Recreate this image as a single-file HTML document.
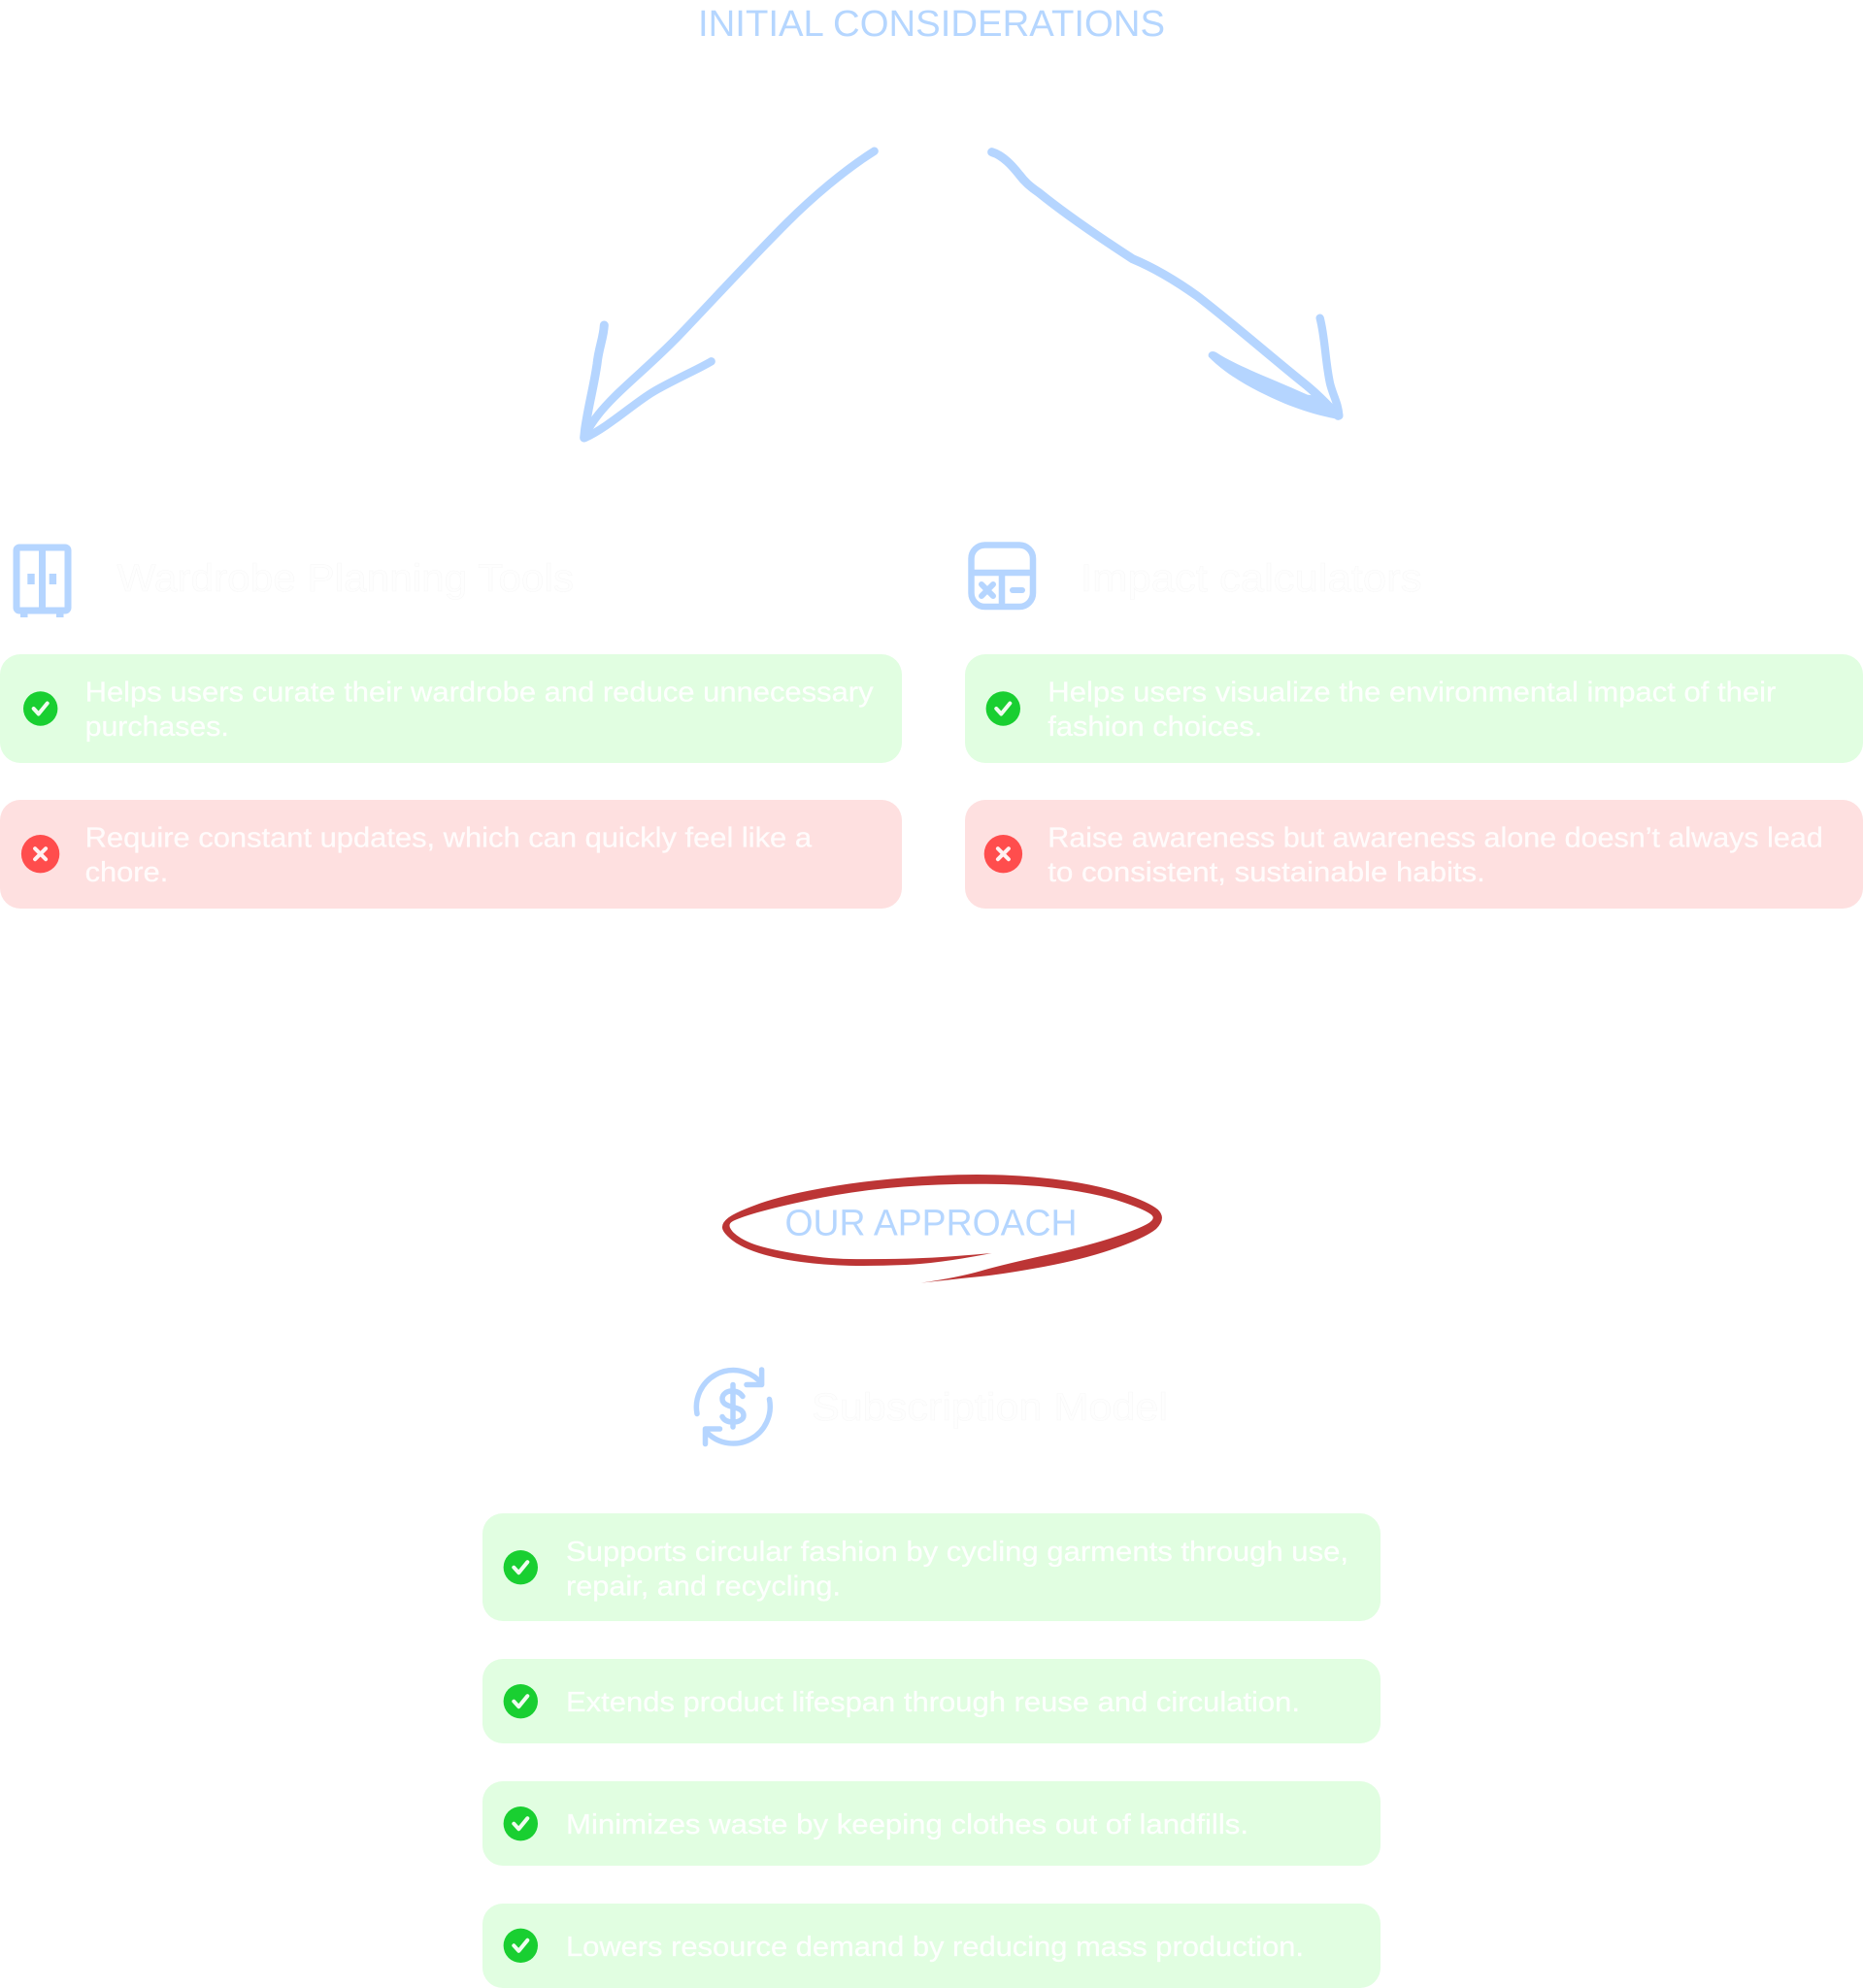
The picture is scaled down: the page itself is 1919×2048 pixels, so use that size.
<!DOCTYPE html>
<html><head><meta charset="utf-8"><title>Our Approach</title>
<style>
html,body{margin:0;padding:0;background:#fff;width:1919px;height:2048px;overflow:hidden}
svg{display:block}
text{font-family:"Liberation Sans",sans-serif}
.t{font-size:29px;fill:#fdfffd;stroke:#fdfffd;stroke-width:.3px}
.r{fill:#fffbfb;stroke:#fffbfb}
.h{font-size:40px;fill:#fefefe;stroke:#f8f8f8;stroke-width:.6px}
.b{font-size:38px;fill:#b5d6ff}
.ic{fill:none;stroke:#b5d5ff;stroke-linecap:round;stroke-linejoin:round}
.ck{fill:none;stroke:#f0fdf0;stroke-width:4;stroke-linecap:round;stroke-linejoin:round}
.xx{fill:none;stroke:#fff0f0;stroke-width:4;stroke-linecap:round}
</style></head><body>
<svg xmlns="http://www.w3.org/2000/svg" width="1919" height="2048" viewBox="0 0 1919 2048">
<defs>
<g id="ok"><circle r="17.7" fill="#19cf31"/><path class="ck" d="M-7 0L-2 5.5L7 -5.5"/></g>
<g id="no"><circle r="19.7" fill="#ff4d4d"/><path class="xx" d="M-5.5 -5.5L5.5 5.5M5.5 -5.5L-5.5 5.5"/></g>
</defs>

<text class="b" x="719" y="37" textLength="481" lengthAdjust="spacingAndGlyphs">INITIAL CONSIDERATIONS</text>

<!-- arrows -->
<g transform="translate(590 145) scale(.33333)" class="ic">
<path stroke-width="25" d="M932 32C840 90 740 175 660 255C560 355 440 485 340 590C260 675 190 730 130 790C90 830 65 860 40 905"/>
<path stroke-width="27" d="M97 570C95 610 80 640 75 690C65 760 50 810 38 890L35 918"/>
<path stroke-width="25" d="M428 682C390 705 320 735 250 775C190 810 110 885 38 918"/>
</g>
<g transform="translate(1010 145) scale(.33333)" class="ic">
<path stroke-width="27" d="M35 35C70 45 100 80 120 105C135 125 150 140 180 160C260 225 370 300 470 365C530 390 600 430 670 480C780 565 900 670 1000 750C1050 790 1080 825 1105 850"/>
<path stroke-width="25" d="M1049 548C1065 610 1065 680 1080 750C1090 790 1105 810 1108 850"/>
<path stroke="none" fill="#b5d5ff" d="M705 668C700 655 715 645 730 655C800 700 900 735 1010 785L1050 790L1120 845C1120 858 1110 862 1100 860C1000 840 930 810 860 775C800 745 740 705 705 668Z"/>
</g>

<!-- left column -->
<g fill="none" stroke="#b5d5ff" stroke-width="7">
<rect x="17" y="564" width="53" height="65" rx="3"/>
<path d="M43.5 564V629"/>
</g>
<g fill="#b5d5ff">
<rect x="28.3" y="591" width="7.4" height="11"/><rect x="50.7" y="591" width="7.4" height="11"/>
<rect x="21" y="630" width="7.5" height="6"/><rect x="58" y="630" width="7.5" height="6"/>
</g>
<text class="h" x="120.5" y="609" textLength="470.5" lengthAdjust="spacingAndGlyphs">Wardrobe Planning Tools</text>

<rect x="0" y="674" width="929" height="112" rx="21" fill="#e1fee1"/>
<use href="#ok" x="41.7" y="730"/>
<text class="t" x="87.6" y="722.6" textLength="812" lengthAdjust="spacingAndGlyphs">Helps users curate their wardrobe and reduce unnecessary</text>
<text class="t" x="87.6" y="758" textLength="148.2" lengthAdjust="spacingAndGlyphs">purchases.</text>

<rect x="0" y="824" width="929" height="112" rx="21" fill="#fee0e0"/>
<use href="#no" x="41.6" y="879.7"/>
<text class="t r" x="87.6" y="872.6" textLength="748.4" lengthAdjust="spacingAndGlyphs">Require constant updates, which can quickly feel like a</text>
<text class="t r" x="87.6" y="908" textLength="85.7" lengthAdjust="spacingAndGlyphs">chore.</text>

<!-- right column -->
<g fill="none" stroke="#b5d5ff" stroke-width="6.5">
<rect x="1000.5" y="561.5" width="63.5" height="63.5" rx="14"/>
<path d="M1000.5 590H1064M1032 590V625"/>
</g>
<path d="M1011 602L1023 614M1023 602L1011 614" fill="none" stroke="#b5d5ff" stroke-width="6" stroke-linecap="round"/>
<path d="M1043 608H1053" fill="none" stroke="#b5d5ff" stroke-width="6" stroke-linecap="round"/>
<text class="h" x="1113" y="609" textLength="351.5" lengthAdjust="spacingAndGlyphs">Impact calculators</text>

<rect x="994" y="674" width="925" height="112" rx="21" fill="#e1fee1"/>
<use href="#ok" x="1033.3" y="730"/>
<text class="t" x="1079.3" y="722.6" textLength="750" lengthAdjust="spacingAndGlyphs">Helps users visualize the environmental impact of their</text>
<text class="t" x="1079.3" y="758" textLength="221" lengthAdjust="spacingAndGlyphs">fashion choices.</text>

<rect x="994" y="824" width="925" height="112" rx="21" fill="#fee0e0"/>
<use href="#no" x="1033.4" y="879.7"/>
<text class="t r" x="1079.3" y="872.6" textLength="798.5" lengthAdjust="spacingAndGlyphs">Raise awareness but awareness alone doesn’t always lead</text>
<text class="t r" x="1079.3" y="908" textLength="450.5" lengthAdjust="spacingAndGlyphs">to consistent, sustainable habits.</text>

<!-- our approach -->
<g transform="translate(700 1190) scale(.33333)">
<path fill="#bc3535" d="M965 303Q800 335 700 339Q600 343 525 341.5Q450 340 375 330Q300 320 245 302.5Q190 285 162 262.5Q134 240 132 225Q130 210 150 194Q170 178 235 154Q300 130 400 110Q500 90 600 79Q700 68 800 63Q900 58 1000 61.5Q1100 65 1200 80Q1300 95 1375 120Q1450 145 1478 168Q1506 195 1473 228Q1440 255 1345 288.5Q1250 322 1125 345Q1000 368 930 375Q860 382 745 395Q860 378 930 358Q1000 338 1125 310.5Q1250 283 1330 257.5Q1410 232 1444 213.5Q1478 195 1452 180Q1430 165 1365 143.5Q1300 122 1200 107Q1100 92 1000 90Q900 88 800 91.5Q700 95 600 106.5Q500 118 400 139Q300 160 240 177.5Q180 195 163 205Q146 215 163 235Q180 255 220 271.5Q260 288 355 304Q450 320 525 321Q600 322 700 320Q800 318 965 303Z"/>
</g>
<text class="b" x="808.5" y="1272.5" textLength="301" lengthAdjust="spacingAndGlyphs">OUR APPROACH</text>

<!-- subscription icon -->
<g class="ic" stroke-width="5.5">
<path d="M718 1456.5A38 38 0 0 1 781 1421.5"/>
<path d="M784.6 1411V1426.5H769"/>
<path d="M792.5 1441.5A38 38 0 0 1 729 1476.5"/>
<path d="M726.5 1487.5V1472H741.5"/>
<path d="M755 1426.5V1470"/>
<path d="M765 1438.5C762 1434 758 1433 754 1433C748 1433 744 1436.5 744 1441C744 1446 749 1448 755 1449.5C761 1451 766 1453 766 1458C766 1462.5 761 1465 755 1465C750 1465 746 1463.5 744 1459.5"/>
</g>
<text class="h" x="836" y="1463" textLength="367" lengthAdjust="spacingAndGlyphs">Subscription Model</text>

<!-- bottom cards -->
<rect x="497" y="1559" width="925" height="111" rx="21" fill="#e1fee1"/>
<use href="#ok" x="536.3" y="1614.7"/>
<text class="t" x="583" y="1608" textLength="806" lengthAdjust="spacingAndGlyphs">Supports circular fashion by cycling garments through use,</text>
<text class="t" x="583" y="1643.4" textLength="283" lengthAdjust="spacingAndGlyphs">repair, and recycling.</text>

<rect x="497" y="1709" width="925" height="87" rx="21" fill="#e1fee1"/>
<use href="#ok" x="536.3" y="1752.7"/>
<text class="t" x="583" y="1763" textLength="756" lengthAdjust="spacingAndGlyphs">Extends product lifespan through reuse and circulation.</text>

<rect x="497" y="1835" width="925" height="87" rx="21" fill="#e1fee1"/>
<use href="#ok" x="536.3" y="1878.7"/>
<text class="t" x="583" y="1889" textLength="703" lengthAdjust="spacingAndGlyphs">Minimizes waste by keeping clothes out of landfills.</text>

<rect x="497" y="1961" width="925" height="87" rx="21" fill="#e1fee1"/>
<use href="#ok" x="536.3" y="2004.3"/>
<text class="t" x="583" y="2015" textLength="760" lengthAdjust="spacingAndGlyphs">Lowers resource demand by reducing mass production.</text>
</svg>
</body></html>
